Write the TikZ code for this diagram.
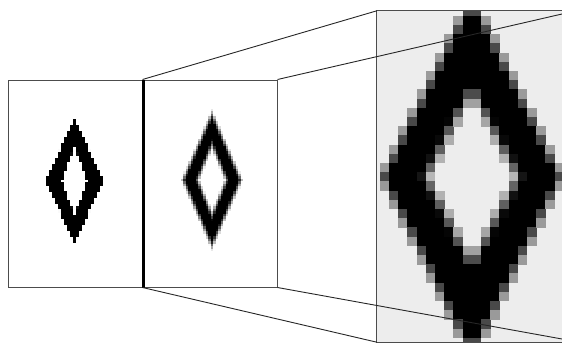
\documentclass[tikz,border=0pt]{standalone}
\usepackage{tikz}
\usetikzlibrary{positioning,calc}
\usepackage{xcolor}

\colorlet{zoombg}{black!7}

% pixel offset of the grid (in cells) along x
\newcommand{\pixshift}{0}
% diamond ring drawn as a grid of grey cells
% #1,#2 centre; #3,#4 outer half axes; #5,#6 inner half axes; #7 cell; #8 blur; #9 background
\newcommand{\pixdiamond}[9]{%
  \pgfmathsetmacro{\kout}{#3/sqrt(1+(#3/#4)*(#3/#4))}
  \pgfmathsetmacro{\kin}{#5/sqrt(1+(#5/#6)*(#5/#6))}
  \pgfmathtruncatemacro{\nx}{#3/#7+2}
  \pgfmathtruncatemacro{\ny}{#4/#7+2}
  \foreach \i in {-\nx,...,\nx}{
    \foreach \j in {-\ny,...,\ny}{
      \pgfmathsetmacro{\pu}{(\i+\pixshift)*#7}
      \pgfmathsetmacro{\pv}{\j*#7}
      \pgfmathsetmacro{\dout}{(1-abs(\pu)/#3-abs(\pv)/#4)*\kout}
      \pgfmathsetmacro{\din}{(abs(\pu)/#5+abs(\pv)/#6-1)*\kin}
      \pgfmathtruncatemacro{\ink}{100*max(0,min(1,0.5+min(\dout,\din)/(#7*#8)))}
      \ifnum\ink>0
        \pgfmathsetmacro{\xa}{#1+\pu-#7/2-0.2}
        \pgfmathsetmacro{\ya}{#2+\pv-#7/2-0.2}
        \pgfmathsetmacro{\xb}{#1+\pu+#7/2+0.2}
        \pgfmathsetmacro{\yb}{#2+\pv+#7/2+0.2}
        \fill[black!\ink!#9] (\xa,\ya) rectangle (\xb,\yb);
      \fi
    }
  }
}

\begin{document}
\begin{tikzpicture}[x=1pt, y=-1pt,
    frame/.style={rectangle, draw=black!70, line width=1pt, inner sep=0pt},
    ray/.style={draw=black!85, line width=0.9pt},
    divider/.style={line width=3pt}
  ]
    \useasboundingbox (0,0) rectangle (562,343);
    \node[frame, minimum width=135pt, minimum height=207pt] (orig) at (75.5,183.5) {};
    \node[frame, minimum width=134pt, minimum height=207pt] (smooth) at (210,183.5) {};
    \node[fill=zoombg, inner sep=0pt, minimum width=190pt, minimum height=331pt] (zoom) at (472,176.5) {};
    \coordinate (topend) at (562,14);
    \coordinate (botend) at (562,339);

    % sharp, smoothed and magnified diamonds
    \pixdiamond{74.5}{181}{29}{62}{13}{35}{3}{0.02}{white}
    \pixdiamond{212}{180}{29}{66}{14.5}{35}{2.5}{1.6}{white}
    \begin{scope}
      \clip (zoom.north west) rectangle (zoom.south east);
      \renewcommand{\pixshift}{0.5}
      \pixdiamond{472}{177}{90}{180}{45}{87}{9.2}{1.3}{zoombg}
    \end{scope}
    \draw[frame] (zoom.north west) rectangle (zoom.south east);

    \draw[divider] (orig.north east) -- (orig.south east);
    \draw[ray] (smooth.north west) -- (zoom.north west);
    \draw[ray] (smooth.south west) -- (zoom.south west);
    \draw[ray] (smooth.north east) -- (topend);
    \draw[ray] (smooth.south east) -- (botend);
  \end{tikzpicture}
\end{document}
